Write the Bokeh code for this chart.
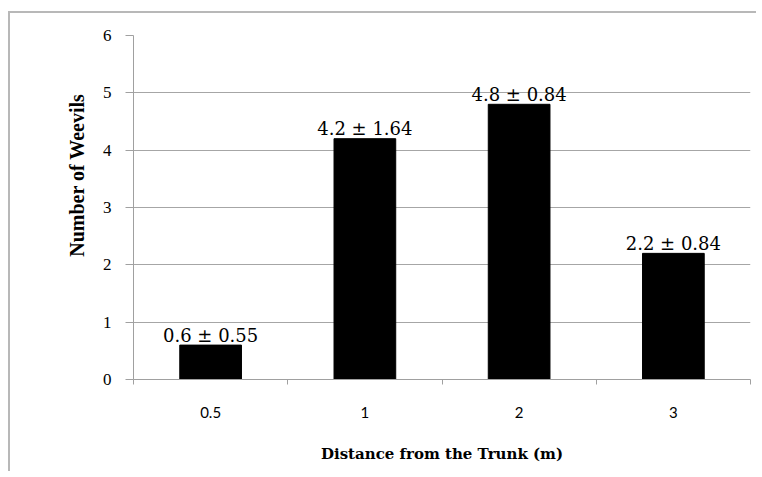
from bokeh.plotting import figure
from bokeh.models import Range1d, FixedTicker, Title
from bokeh.core.properties import value
from bokeh.embed import file_html
from bokeh.resources import INLINE

# Data
categories = ["0.5", "1", "2", "3"]
means = [0.6, 4.2, 4.8, 2.2]
sds = [0.55, 1.64, 0.84, 0.84]
y_ticks = [0, 1, 2, 3, 4, 5, 6]

xpos = [i + 0.5 for i in range(len(categories))]
boundaries = [i for i in range(len(categories) + 1)]
labels = [f"{m} \u00b1 {s}" for m, s in zip(means, sds)]

p = figure(width=748, height=460, output_backend="svg", toolbar_location=None,
           x_range=Range1d(0, len(categories)), y_range=Range1d(0, 6),
           min_border_left=123, min_border_right=8, min_border_top=22, min_border_bottom=94)
p.styles = {"box-shadow": "-2px -2px 0 0 #b8b8b8",
            "margin-top": "13px", "margin-left": "10px"}
p.outline_line_color = None
p.background_fill_color = "white"
p.border_fill_color = "white"

p.vbar(x=xpos, top=means, width=0.4, color="black")
p.text(x=xpos, y=means, text=labels, text_align="center", text_baseline="alphabetic",
       y_offset=-10, text_font=value("DejaVu Serif"), text_font_size="18px", text_color="black")

# x axis
xa = p.xaxis[0]
xa.ticker = FixedTicker(ticks=xpos, minor_ticks=boundaries)
xa.major_label_overrides = {x: c for x, c in zip(xpos, categories)}
xa.major_tick_out = 0
xa.major_tick_in = 0
xa.minor_tick_out = 5
xa.minor_tick_in = 0
xa.minor_tick_line_color = "#a0a0a0"
xa.axis_line_color = "#a0a0a0"
xa.major_label_standoff = 22
xa.major_label_text_font = "Lato"
xa.major_label_text_font_size = "15px"
xa.major_label_text_color = "black"
xa.axis_label = "Distance from the Trunk (m)"
xa.axis_label_text_font = "DejaVu Serif"
xa.axis_label_text_font_style = "bold"
xa.axis_label_text_font_size = "15px"
xa.axis_label_text_color = "black"
xa.axis_label_standoff = 24

# y axis
ya = p.yaxis[0]
ya.ticker = FixedTicker(ticks=y_ticks, minor_ticks=[])
ya.major_tick_out = 8
ya.major_tick_in = 0
ya.major_tick_line_color = "#a0a0a0"
ya.axis_line_color = "#a0a0a0"
ya.major_label_standoff = 14
ya.major_label_text_font = "Liberation Serif"
ya.major_label_text_font_size = "17px"
ya.major_label_text_color = "black"

p.xgrid.grid_line_color = None
p.ygrid.ticker = FixedTicker(ticks=y_ticks[1:])
p.ygrid.grid_line_color = "#a6a6a6"

p.add_layout(Title(text="Number of Weevils", align="right", offset=58, standoff=24,
                   text_font="Liberation Serif", text_font_style="bold",
                   text_font_size="20px", text_color="black"), "left")

open("out.html", "w").write(file_html(p, INLINE))
